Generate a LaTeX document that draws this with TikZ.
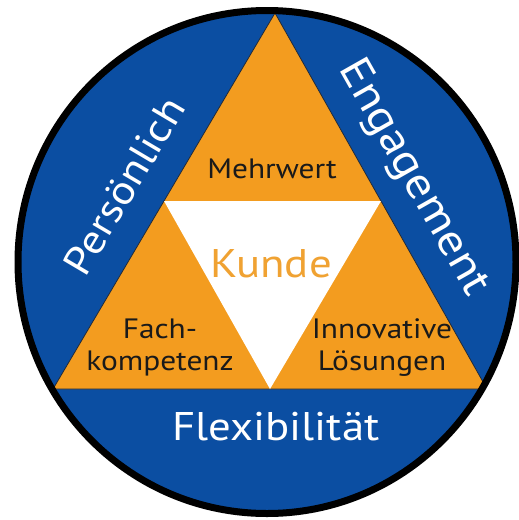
\documentclass[tikz,border=0pt]{standalone}
\usepackage{fontspec}
\setmainfont[FakeStretch=1.12]{PT Sans}
\usetikzlibrary{calc}
\definecolor{cblue}{HTML}{0B4EA2}
\definecolor{corange}{HTML}{F39C1F}
\definecolor{ckunde}{HTML}{F0A232}
\definecolor{cedge}{HTML}{1E2A3C}
\definecolor{ctext}{HTML}{1A1A1A}
\begin{document}
\begin{tikzpicture}[x=1pt,y=-1pt,
  darklbl/.style={text=ctext, font=\fontsize{28}{32}\selectfont, align=center, inner sep=0pt},
  whitelbl/.style={text=white, font=\fontsize{40}{44}\selectfont, inner sep=0pt}]
\useasboundingbox (0,0) rectangle (519,520);
\fill[white] (0,0) rectangle (519,520);
\coordinate (O) at (267,262);
\fill[cblue] (O) ellipse [x radius=250, y radius=252];
\coordinate (A) at (275,13);
\coordinate (B) at (53,389);
\coordinate (C) at (487,389);
\coordinate (AB) at ($(A)!0.5!(B)$);
\coordinate (AC) at ($(A)!0.5!(C)$);
\coordinate (BC) at ($(B)!0.5!(C)$);
\begin{scope}
  \clip (O) ellipse [x radius=250, y radius=252];
  \filldraw[fill=corange, draw=cedge, line width=0.8pt] (A) -- (B) -- (C) -- cycle;
  \fill[white] (AB) -- (AC) -- (BC) -- cycle;
\end{scope}
\draw[black, line width=7pt] (O) ellipse [x radius=249, y radius=251.5];
% labels
\node[darklbl, anchor=base] (mehrwert) at (272,178) {Mehrwert};
\node[text=ckunde, font=\fontsize{40}{44}\selectfont, inner sep=0pt, anchor=base] (kunde) at (271,277) {Kunde};
\node[darklbl, anchor=base] (fach) at (160,338) {Fach-};
\node[darklbl, anchor=base] (kompetenz) at (160,370) {kompetenz};
\node[darklbl, anchor=base] (innovative) at (382,338) {Innovative};
\node[darklbl, anchor=base] (loesungen) at (382,370) {Lösungen};
\node[whitelbl, anchor=base] (flex) at (276,440) {Flexibilität};
\node[whitelbl, rotate=59.4] (pers) at (124,186) {Persönlich};
\node[whitelbl, font=\fontsize{44}{48}\selectfont, rotate=-60.5] (eng) at (413,178) {Engagement};
\end{tikzpicture}
\end{document}
